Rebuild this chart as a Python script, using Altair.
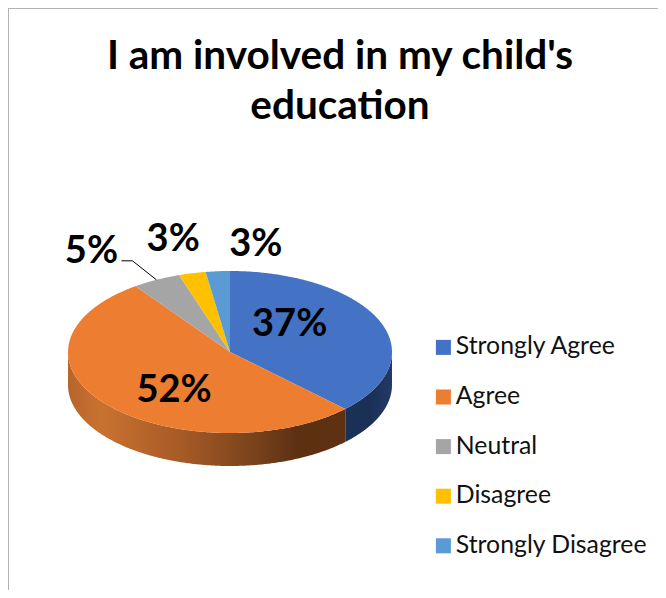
import numpy as np
import pandas as pd
import altair as alt

CATEGORIES = ["Strongly Agree", "Agree", "Neutral", "Disagree", "Strongly Disagree"]
VALUES = [37.4, 52.7, 4.8, 2.7, 2.4]
LABELS = ["37%", "52%", "5%", "3%", "3%"]
COLORS = ["#4472C4", "#ED7D31", "#A5A5A5", "#FFC000", "#5B9BD5"]
LABEL_RADIUS = [0.6, 0.6, 1.0, 1.0, 1.0]
LABEL_DX = [-30, 18, -65, -19, 38]
LABEL_DY = [-8, 7, -28, -33, -26]

W, H = 650, 582
RX, RY = 162, 81
CX, CY = 222, 344
DEPTH = 33 / RY

x_scale = alt.Scale(domain=[-CX / RX, (W - CX) / RX], nice=False, zero=False)
y_scale = alt.Scale(domain=[-(H - CY) / RY, CY / RY], nice=False, zero=False)
color_scale = alt.Scale(domain=CATEGORIES, range=COLORS)
X = alt.X("x:Q", scale=x_scale, axis=None)
Y = alt.Y("y:Q", scale=y_scale, axis=None)

edges = np.cumsum([0] + VALUES) / sum(VALUES) * 360

tops = []
for i, cat in enumerate(CATEGORIES):
    angs = np.radians(np.arange(edges[i], edges[i + 1], 0.5).tolist() + [edges[i + 1]])
    xs = [0.0] + np.sin(angs).tolist() + [0.0]
    ys = [0.0] + np.cos(angs).tolist() + [0.0]
    for k, (a, b) in enumerate(zip(xs, ys)):
        tops.append({"slice": cat, "k": k, "x": a, "y": b})
tops = pd.DataFrame(tops)

GRADIENTS = {
    "Strongly Agree": [(0, "#1A3158"), (0.5, "#1B2F54"), (1, "#223A68")],
    "Agree": [(0, "#B8652A"), (0.12, "#C97230"), (0.4, "#A85B26"),
              (0.7, "#74401B"), (0.82, "#5E3013"), (1, "#5F3112")],
}

layers = []
frame = pd.DataFrame({"a": [0]})
layers.append(alt.Chart(frame).mark_rule(color="#B3B3B3", strokeWidth=2).encode(
    x=alt.value(0), y=alt.value(0), y2=alt.value(H)))
layers.append(alt.Chart(frame).mark_rule(color="#B3B3B3", strokeWidth=2).encode(
    x=alt.value(0), x2=alt.value(W), y=alt.value(0)))

for i, cat in enumerate(CATEGORIES):
    lo, hi = max(edges[i], 90), min(edges[i + 1], 270)
    if hi <= lo:
        continue
    angs = np.radians(np.arange(lo, hi, 0.5).tolist() + [hi])
    side = pd.DataFrame({"x": np.sin(angs), "y": np.cos(angs), "yb": np.cos(angs) - DEPTH})
    grad = alt.LinearGradient(
        gradient="linear", x1=0, x2=1, y1=0, y2=0,
        stops=[alt.GradientStop(offset=o, color=c) for o, c in GRADIENTS[cat]])
    layers.append(alt.Chart(side).mark_area(color=grad).encode(
        x=X, y=Y, y2=alt.Y2("yb:Q")))

layers.append(alt.Chart(tops).mark_line(filled=True, strokeWidth=0).encode(
    x=X, y=Y, order="k:Q",
    fill=alt.Fill("slice:N", scale=color_scale, sort=CATEGORIES, legend=alt.Legend(
        title=None, orient="none", legendX=423, legendY=327,
        symbolType="square", symbolSize=225, symbolStrokeWidth=0, symbolOpacity=1,
        labelFont="Lato", labelFontSize=24.8, labelColor="#111111", labelLimit=300,
        labelOffset=0, rowPadding=23.6, padding=0))))

# leader line of the 5% label
mid = np.radians((edges[2] + edges[3]) / 2)
rim = (np.sin(mid), np.cos(mid))
leader = pd.DataFrame({
    "k": [0, 1, 2],
    "x": [rim[0], rim[0] - 24 / RX, rim[0] - 35 / RX],
    "y": [rim[1], rim[1] + 19 / RY, rim[1] + 19 / RY],
})
layers.append(alt.Chart(leader).mark_line(color="#000000", strokeWidth=1).encode(
    x=X, y=Y, order="k:Q"))

for i, lab in enumerate(LABELS):
    m = np.radians((edges[i] + edges[i + 1]) / 2)
    d = pd.DataFrame({"x": [LABEL_RADIUS[i] * np.sin(m)], "y": [LABEL_RADIUS[i] * np.cos(m)], "t": [lab]})
    layers.append(alt.Chart(d).mark_text(
        font="Lato", fontWeight="bold", fontSize=38, color="#000000",
        dx=LABEL_DX[i], dy=LABEL_DY[i], baseline="middle", align="center"
    ).encode(x=X, y=Y, text="t:N"))

chart = alt.layer(*layers).properties(
    width=W, height=H, padding=0,
    autosize=alt.AutoSizeParams(type="none"),
    title=alt.TitleParams(
        text=["I am involved in my child's", "education"],
        font="Lato", fontWeight="bold", fontSize=40.5, color="#000000",
        anchor="middle", frame="group", dx=7, dy=124, lineHeight=50),
).configure_view(stroke=None)

chart.save("out.html", embed_options={"renderer": "svg", "actions": False})
